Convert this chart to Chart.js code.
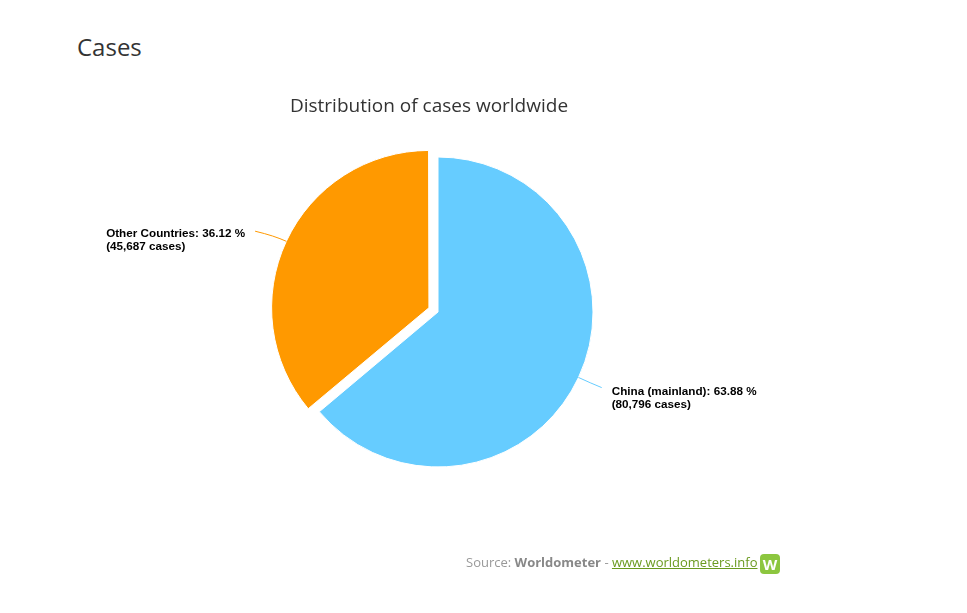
<!DOCTYPE html>
<html>
<head>
<meta charset="utf-8">
<title>Cases</title>
<script src="https://cdn.jsdelivr.net/npm/chart.js@4.4.1/dist/chart.umd.min.js"></script>
<style>
    body {
        margin: 0;
        background: #ffffff;
        font-family: "Open Sans", sans-serif;
    }

    #page {
        position: relative;
        width: 967px;
        height: 613px;
        overflow: hidden;
    }

    h2 {
        position: absolute;
        left: 77px;
        top: 35px;
        margin: 0;
        font-size: 24px;
        line-height: 24px;
        font-weight: normal;
        color: #333333;
    }

    #chartTitle {
        position: absolute;
        left: 0;
        top: 96px;
        width: 858px;
        text-align: center;
        font-size: 19px;
        line-height: 19px;
        color: #333333;
    }

    #chartBox {
        position: absolute;
        left: 0;
        top: 0;
        width: 967px;
        height: 613px;
    }

    #source {
        position: absolute;
        left: 466px;
        top: 556px;
        font-size: 13px;
        line-height: 13px;
        color: #999999;
        white-space: nowrap;
    }

    #source b {
        color: #888888;
    }

    #source a {
        color: #6a9a1f;
        text-decoration: underline;
    }

    #logo {
        position: absolute;
        left: 760px;
        top: 554px;
        width: 20px;
        height: 20px;
        border-radius: 4px;
        background: #8cc63f;
        color: #ffffff;
        font: bold 15px "Open Sans", sans-serif;
        line-height: 20px;
        text-align: center;
    }
</style>
</head>
<body>
<div id="page">
    <h2>Cases</h2>
    <div id="chartBox"><canvas id="casesChart" width="967" height="613"></canvas></div>
    <div id="chartTitle">Distribution of cases worldwide</div>
    <div id="source">Source: <b>Worldometer</b> - <a href="#">www.worldometers.info</a></div>
    <div id="logo">W</div>
</div>

<script>
const categories = ["China (mainland)", "Other Countries"];
const cases = [80796, 45687];
const colors = ["#66ccff", "#ff9900"];
const sliceOffsets = [0, 40];

const total = cases.reduce((a, b) => a + b, 0);

// Highcharts-like data labels with connectors
const pieLabels = {
    id: "pieLabels",
    afterDatasetsDraw(chart) {
        const ctx = chart.ctx;
        const meta = chart.getDatasetMeta(0);

        meta.data.forEach((arc, i) => {
            const p = arc.getProps(["x", "y", "startAngle", "endAngle", "outerRadius", "circumference"], true);
            const shift = (arc.options.offset || 0) / 4;
            const mid = (p.startAngle + p.endAngle) / 2;
            const fix = 1 - Math.sin(Math.min(Math.PI, p.circumference));
            const r = p.outerRadius + shift * fix;
            const cx = p.x + Math.cos(mid) * shift;
            const cy = p.y + Math.sin(mid) * shift;
            const cos = Math.cos(mid);
            const sin = Math.sin(mid);

            const edge = { x: cx + cos * r, y: cy + sin * r };
            const ctrl = { x: cx + cos * (r + 13), y: cy + sin * (r + 13) };
            // labels sit a little to the left, like the original layout
            const end = { x: edge.x + cos * 30 - 4, y: edge.y + sin * 24 };

            ctx.save();
            ctx.strokeStyle = colors[i];
            ctx.lineWidth = 1;
            ctx.beginPath();
            ctx.moveTo(end.x, end.y);
            ctx.quadraticCurveTo(ctrl.x, ctrl.y, edge.x, edge.y);
            ctx.stroke();

            const pct = (cases[i] / total * 100).toFixed(2);
            const lines = [
                categories[i] + ": " + pct + " %",
                "(" + cases[i].toLocaleString("en-US") + " cases)"
            ];

            ctx.font = "bold 11.7px 'Liberation Sans', Arial, sans-serif";
            ctx.fillStyle = "#000000";
            ctx.textBaseline = "alphabetic";
            ctx.textAlign = "left";

            const w = Math.max(...lines.map(t => ctx.measureText(t).width));
            const tx = cos >= 0 ? end.x + 10 : end.x - 10 - w;
            const ty = end.y + (sin < 0 ? 6 : 7);

            lines.forEach((t, k) => {
                ctx.fillText(t, tx, ty + k * 13);
            });
            ctx.restore();
        });
    }
};

const ctx = document.getElementById("casesChart").getContext("2d");

new Chart(ctx, {
    type: "pie",

    data: {
        labels: categories,

        datasets: [
            {
                data: cases,
                backgroundColor: colors,
                borderColor: "#ffffff",
                borderWidth: 1,
                offset: sliceOffsets,
                hoverOffset: 0
            }
        ]
    },

    options: {
        responsive: false,
        animation: false,
        radius: 155,

        layout: {
            padding: {
                left: 100,
                right: 191,
                top: 151,
                bottom: 140
            }
        },

        plugins: {
            legend: {
                display: false
            },
            tooltip: {
                enabled: false
            }
        }
    },

    plugins: [pieLabels]
});
</script>
</body>
</html>
